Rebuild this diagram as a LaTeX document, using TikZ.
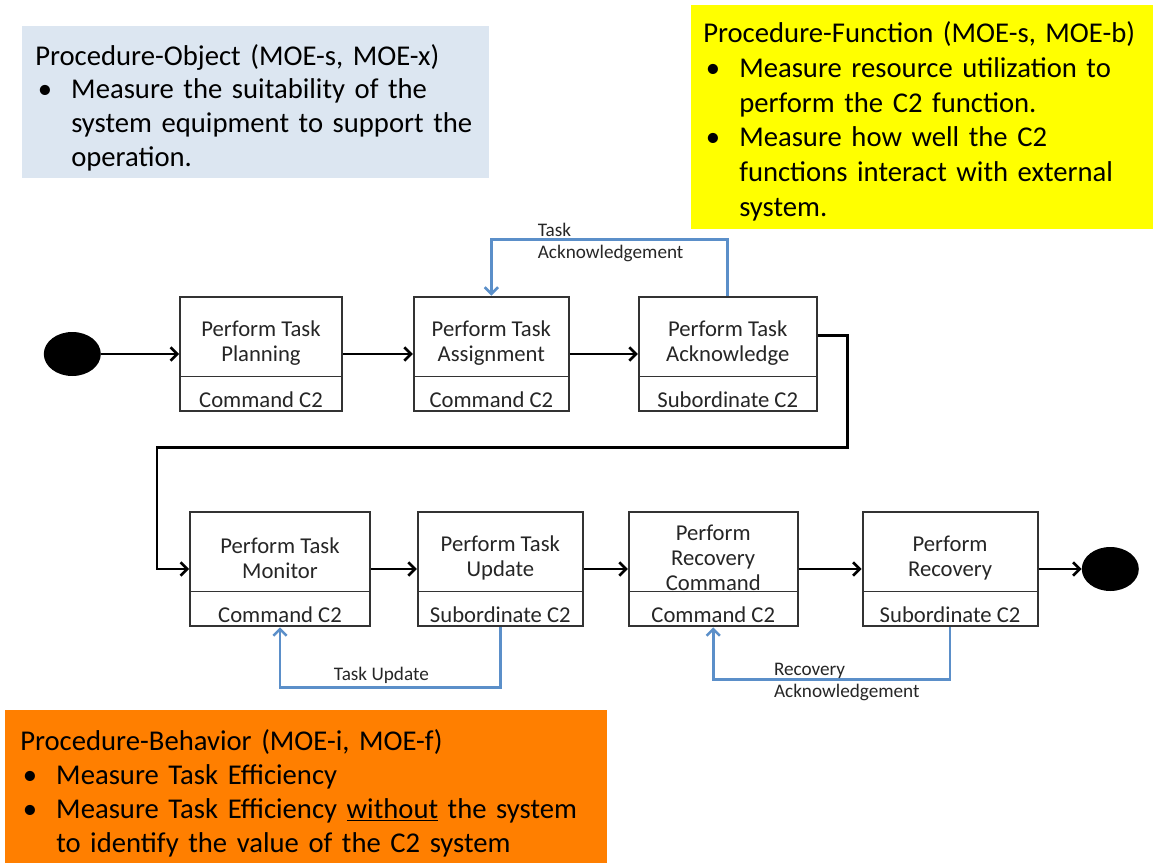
\documentclass[tikz,border=0pt]{standalone}
\usepackage{fontspec}
\setmainfont{Carlito}
\usepackage{xcolor}
\usepackage{tikz}
\usetikzlibrary{shapes,arrows,arrows.meta}
\usetikzlibrary{positioning}
\setlength{\parindent}{0pt}

\definecolor{paleblue}{RGB}{220,230,241}
\definecolor{hiyellow}{RGB}{255,255,0}
\definecolor{deeporange}{RGB}{255,127,0}
\definecolor{linkblue}{RGB}{91,143,201}

% bullet item with hanging indent
\newcommand{\itm}{\par\hangindent=27pt\hangafter=1\noindent\makebox[27pt][l]{\hspace{2pt}\textbullet}}
% upper part (step) and lower part (owner) of a task box
\newcommand{\taskparts}[3]{\parbox[c][58.5pt][c]{#1}{\centering\vspace*{10pt}#2}\nodepart{two}\parbox[c][24.75pt][c]{#1}{\centering\vspace*{8pt}#3}}

\tikzstyle{panel} = [anchor=north west, inner ysep=4pt,
                     font=\fontsize{21.5}{25.3}\selectfont\raggedright]
\tikzstyle{task} = [rectangle split, rectangle split parts=2, draw=black!80,
                    line width=1.4pt, fill=white, inner sep=0pt,
                    text=black!85, font=\fontsize{17}{18.75}\selectfont]
\tikzstyle{terminal} = [ellipse, fill=black, minimum width=42.75pt,
                        minimum height=33pt, inner sep=0pt]
\tikzstyle{line} = [draw, -{Straight Barb[length=5pt,width=10pt]}, line width=2pt]
\tikzstyle{feedback} = [draw=linkblue, -{Straight Barb[length=5pt,width=10pt]}, line width=1.9pt]
\tikzstyle{note} = [align=left, inner sep=2pt, text=black!85,
                    font=\fontsize{14.4}{17}\selectfont]

\begin{document}
\begin{tikzpicture}[x=0.75pt, y=-0.75pt, node distance=52.5pt]
  \useasboundingbox (0,0) rectangle (1153,863);

  % Measures of effectiveness
  \node [panel, fill=paleblue, text width=330.75pt, inner xsep=9.75pt, minimum height=114pt] (object) at (22,26)
    {\rule{0pt}{23.6pt}Procedure-Object (MOE-s, MOE-x)
     \itm Measure the suitability of the\newline system equipment to support the\newline operation.\par};
  \node [panel, fill=hiyellow, text width=328.5pt, inner xsep=9pt, minimum height=168pt,
         font=\fontsize{21.5}{26}\selectfont\raggedright] (function) at (691,5)
    {\rule{0pt}{21.7pt}Procedure-Function (MOE-s, MOE-b)
     \itm Measure resource utilization to\newline perform the C2 function.
     \itm Measure how well the C2\newline functions interact with external\newline system.\par};
  \node [panel, fill=deeporange, text width=429pt, inner xsep=11.25pt, minimum height=114.75pt] (behavior) at (5,710)
    {\rule{0pt}{25.5pt}Procedure-Behavior (MOE-i, MOE-f)
     \itm Measure Task Efficiency
     \itm Measure Task Efficiency \underline{without} the system\newline to identify the value of the C2 system\par};

  % Place nodes
  \node [task] (planning) at (261,354) {\taskparts{121.5pt}{Perform Task\\Planning}{Command C2}};
  \node [terminal, left=58.5pt of planning] (start) {};
  \node [task, right=of planning] (assign) {\taskparts{116.25pt}{Perform Task\\Assignment}{Command C2}};
  \node [task, right=51pt of assign] (ack) {\taskparts{133.5pt}{Perform Task\\Acknowledge}{Subordinate C2}};
  \node [task] (monitor) at (280,569) {\taskparts{135pt}{Perform Task\\Monitor}{Command C2}};
  \node [task, right=34.5pt of monitor] (update) {\taskparts{123.75pt}{Perform Task\\Update}{Subordinate C2}};
  \node [task, right=33pt of update] (reccmd) {\taskparts{126.75pt}{Perform\\Recovery\\Command}{Command C2}};
  \node [task, right=47.25pt of reccmd] (recovery) {\taskparts{131.25pt}{Perform\\Recovery}{Subordinate C2}};
  \node [terminal, right=32.25pt of recovery] (finish) {};

  % Draw edges
  \path [line] (start) -- (planning);
  \path [line] (planning) -- (assign);
  \path [line] (assign) -- (ack);
  \path [line] ([yshift=14pt]ack.east) -- ++(30,0) -- ++(0,112) -| ([xshift=-24pt]monitor.west) -- (monitor.west);
  \path [line] (monitor) -- (update);
  \path [line] (update) -- (reccmd);
  \path [line] (reccmd) -- (recovery);
  \path [line] (recovery) -- (finish);

  % Feedback loops
  \path [feedback] (ack.north) -- ++(0,-56) -| node [note, pos=0.41, anchor=west, yshift=-2pt] {Task\\Acknowledgement} (assign.north);
  \path [feedback] (update.south) -- ++(0,60) -| node [note, pos=0.27, above] {Task Update} (monitor.south);
  \path [feedback] (recovery.south) -- ++(0,52) -| node [note, pos=0.38, anchor=west, yshift=-2pt] {Recovery\\Acknowledgement} (reccmd.south);
\end{tikzpicture}
\end{document}
